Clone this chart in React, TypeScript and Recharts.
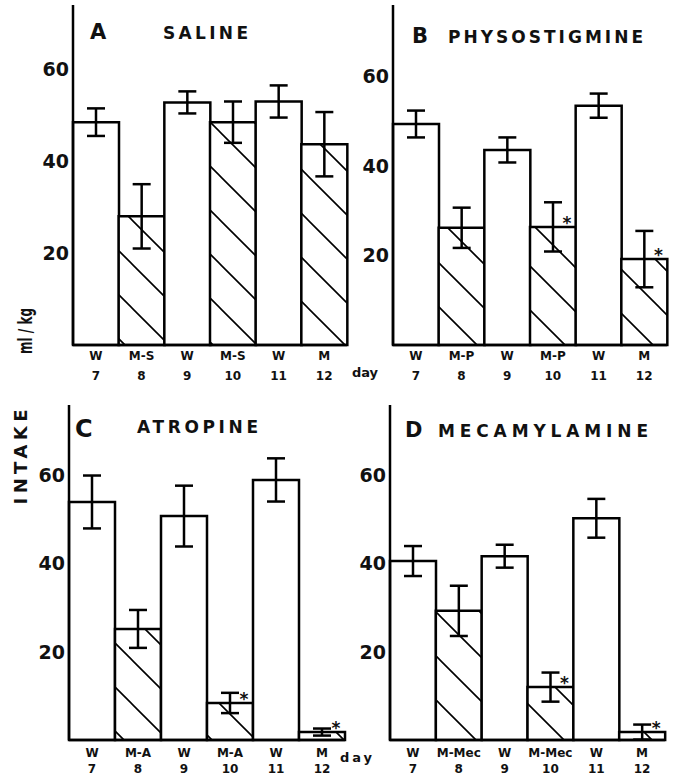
import React from "react";
import { Bar, BarChart, Cell, ErrorBar, LabelList, XAxis, YAxis } from "recharts";

const W = 675;
const H = 778;
const FONT = "'DejaVu Sans', 'Liberation Sans', sans-serif";

// shared axis values
const days = ["7", "8", "9", "10", "11", "12"];
const hatched = [false, true, false, true, false, true];
const yTicks = [20, 40, 60];

// A saline
const condA = ["W", "M-S", "W", "M-S", "W", "M"];
const salineMean = [48.5, 28, 52.8, 48.5, 53, 43.7];
const salineErr = [3, 7, 2.4, 4.5, 3.5, 7];
const salineSig = [false, false, false, false, false, false];

// B physostigmine
const condB = ["W", "M-P", "W", "M-P", "W", "M"];
const physoMean = [49.4, 26.2, 43.6, 26.4, 53.5, 19.2];
const physoErr = [3, 4.5, 2.8, 5.5, 2.7, 6.3];
const physoSig = [false, false, false, true, false, true];

// C atropine
const condC = ["W", "M-A", "W", "M-A", "W", "M"];
const atroMean = [54, 25.2, 50.8, 8.4, 59, 1.8];
const atroErr = [6, 4.3, 6.9, 2.3, 4.9, 0.8];
const atroSig = [false, false, false, true, false, true];

// D mecamylamine
const condD = ["W", "M-Mec", "W", "M-Mec", "W", "M"];
const mecaMean = [40.6, 29.3, 41.7, 12, 50.3, 1.8];
const mecaErr = [3.4, 5.7, 2.6, 3.3, 4.4, 1.7];
const mecaSig = [false, false, false, true, false, true];

interface Row {
  day: string;
  cond: string;
  mean: number;
  err: number;
  hatched: boolean;
  star: string;
}

interface Box {
  left: number;
  right: number;
  top: number;
  bottom: number;
  yMax: number;
  row1: number;
  row2: number;
}

function buildRows(cond: string[], mean: number[], err: number[], sig: boolean[]): Row[] {
  return days.map((d, i) => ({
    day: d,
    cond: cond[i],
    mean: mean[i],
    err: err[i],
    hatched: hatched[i],
    star: sig[i] ? "*" : "",
  }));
}

const boxA: Box = { left: 73, right: 347, top: 5, bottom: 345, yMax: 74, row1: 15, row2: 35 };
const boxB: Box = { left: 393, right: 667, top: 5, bottom: 345, yMax: 76, row1: 15, row2: 35 };
const boxC: Box = { left: 69, right: 345, top: 405, bottom: 740, yMax: 76, row1: 17, row2: 33 };
const boxD: Box = { left: 390, right: 665, top: 405, bottom: 740, yMax: 76, row1: 17, row2: 33 };

function XTick(props: any) {
  const { x, index, payload, rows, box } = props;
  const common = {
    textAnchor: "middle" as const,
    fontFamily: FONT,
    fontWeight: 700,
    fontSize: 12,
    fill: "#111",
  };
  return (
    <g>
      <text x={x} y={box.bottom + box.row1} {...common}>
        {rows[index]?.cond}
      </text>
      <text x={x} y={box.bottom + box.row2} {...common}>
        {payload.value}
      </text>
    </g>
  );
}

function Star(props: any) {
  const { x, y, width, value } = props;
  if (!value) return null;
  return (
    <text
      x={Number(x) + Number(width) / 2 + 14}
      y={Number(y) + 2}
      textAnchor="middle"
      fontFamily={FONT}
      fontWeight={700}
      fontSize={17}
      fill="#111"
    >
      *
    </text>
  );
}

function Panel({ rows, box }: { rows: Row[]; box: Box }) {
  return (
    <div style={{ position: "absolute", left: 0, top: 0 }}>
      <BarChart
        width={W}
        height={H}
        data={rows}
        barCategoryGap={0}
        margin={{ top: box.top, left: box.left - 40, right: W - box.right, bottom: H - box.bottom - 30 }}
      >
        <XAxis
          dataKey="day"
          height={30}
          interval={0}
          tickSize={0}
          tickMargin={0}
          tickLine={false}
          axisLine={{ stroke: "#000", strokeWidth: 2.5 }}
          tick={(p: any) => <XTick {...p} rows={rows} box={box} />}
        />
        <YAxis
          width={40}
          domain={[0, box.yMax]}
          ticks={yTicks}
          interval={0}
          tickSize={0}
          tickMargin={4}
          tickLine={false}
          axisLine={{ stroke: "#000", strokeWidth: 2.5 }}
          tick={{ fill: "#111", fontSize: 19, fontWeight: 700, fontFamily: FONT }}
        />
        <Bar dataKey="mean" stroke="#000" strokeWidth={2.5} isAnimationActive={false}>
          {rows.map((r, i) => (
            <Cell key={i} fill={r.hatched ? "url(#hatch)" : "#fff"} />
          ))}
          <ErrorBar dataKey="err" width={9} stroke="#000" strokeWidth={2.5} isAnimationActive={false} />
          <LabelList dataKey="star" content={Star} />
        </Bar>
      </BarChart>
    </div>
  );
}

const titleStyle = { fontFamily: FONT, fontWeight: 700, fill: "#111" };

export default function App() {
  return (
    <div style={{ position: "absolute", left: 0, top: 0, width: W, height: H, background: "#fff" }}>
      <svg width={W} height={H} style={{ position: "absolute", left: 0, top: 0 }}>
        <defs>
          <pattern id="hatch" patternUnits="userSpaceOnUse" width={44} height={44}>
            <rect width={44} height={44} fill="#fff" />
            <path d="M0,0 L44,44 M-4,40 L4,48 M40,-4 L48,4" stroke="#000" strokeWidth={1.6} />
          </pattern>
        </defs>
      </svg>
      <Panel rows={buildRows(condA, salineMean, salineErr, salineSig)} box={boxA} />
      <Panel rows={buildRows(condB, physoMean, physoErr, physoSig)} box={boxB} />
      <Panel rows={buildRows(condC, atroMean, atroErr, atroSig)} box={boxC} />
      <Panel rows={buildRows(condD, mecaMean, mecaErr, mecaSig)} box={boxD} />
      <svg width={W} height={H} style={{ position: "absolute", left: 0, top: 0, pointerEvents: "none" }}>
        <text x={90} y={39} fontSize={21} {...titleStyle}>A</text>
        <text x={163} y={39} fontSize={17} textLength={85} lengthAdjust="spacing" {...titleStyle}>SALINE</text>
        <text x={412} y={43} fontSize={21} {...titleStyle}>B</text>
        <text x={448} y={43} fontSize={17} textLength={195} lengthAdjust="spacing" {...titleStyle}>PHYSOSTIGMINE</text>
        <text x={75} y={437} fontSize={24} {...titleStyle}>C</text>
        <text x={137} y={433} fontSize={17} textLength={121} lengthAdjust="spacing" {...titleStyle}>ATROPINE</text>
        <text x={405} y={437} fontSize={21} {...titleStyle}>D</text>
        <text x={438} y={437} fontSize={17} textLength={210} lengthAdjust="spacing" {...titleStyle}>MECAMYLAMINE</text>
        <text x={352} y={377} fontSize={13} textLength={26} lengthAdjust="spacing" {...titleStyle}>day</text>
        <text x={340} y={762} fontSize={13} textLength={32} lengthAdjust="spacing" {...titleStyle}>day</text>
        <text
          x={32}
          y={331}
          fontSize={20}
          textAnchor="middle"
          textLength={46}
          lengthAdjust="spacingAndGlyphs"
          transform="rotate(-90 32 331)"
          {...titleStyle}
        >
          ml / kg
        </text>
        <text
          x={27}
          y={457}
          fontSize={18}
          textAnchor="middle"
          textLength={95}
          lengthAdjust="spacing"
          transform="rotate(-90 27 457)"
          {...titleStyle}
        >
          INTAKE
        </text>
      </svg>
    </div>
  );
}
